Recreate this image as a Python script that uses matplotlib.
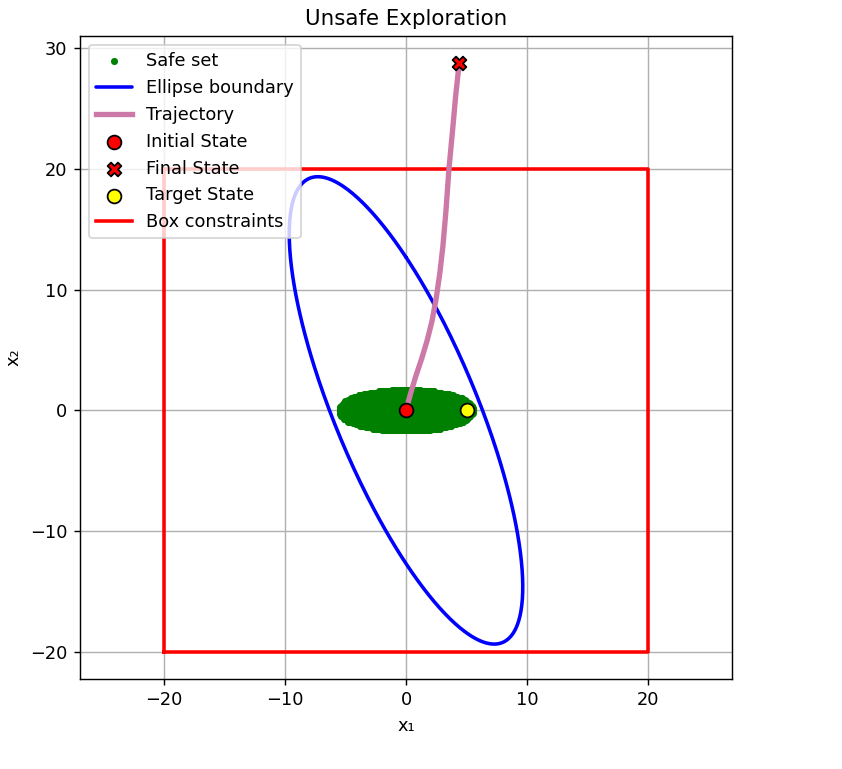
import numpy as np
import matplotlib
matplotlib.use("Agg")
import matplotlib.pyplot as plt

# ---- data ----
safe_center = [0.0, 0.0]
safe_semi_axes = [5.6, 1.76]          # safe set ellipse (filled with sample points)
safe_grid_step = 0.12

ellipse_center = [0.0, 0.0]
ellipse_cov = [[93.1, -141.0],
               [-141.0, 374.4]]       # boundary ellipse shape matrix (inverse)

traj_x = [0.0, 0.35, 0.8, 1.3, 1.75, 2.15, 2.5, 2.8, 3.05, 3.3, 3.55, 3.85, 4.1, 4.4]
traj_y = [0.0, 1.3, 2.8, 4.3, 5.8, 7.4, 9.3, 11.4, 13.6, 16.5, 20.0, 23.2, 26.0, 28.8]

initial_state = [0.0, 0.0]
final_state = [4.4, 28.8]
target_state = [5.0, 0.0]

box_x = [-20, 20, 20, -20, -20]
box_y = [-20, -20, 20, 20, -20]

xlim = (-26.94, 26.94)
ylim = (-22.24, 31.0)

# ---- figure ----
DPI = 128
fig = plt.figure(figsize=(842 / DPI, 769 / DPI), dpi=DPI)
ax = fig.add_axes([80 / 842, 1 - 679 / 769, 652 / 842, 643 / 769])

# safe set: dense points inside ellipse
gx = np.arange(-safe_semi_axes[0], safe_semi_axes[0] + 1e-9, safe_grid_step)
gy = np.arange(-safe_semi_axes[1], safe_semi_axes[1] + 1e-9, safe_grid_step)
GX, GY = np.meshgrid(gx, gy)
mask = (GX / safe_semi_axes[0]) ** 2 + (GY / safe_semi_axes[1]) ** 2 <= 1.0
ax.scatter(GX[mask] + safe_center[0], GY[mask] + safe_center[1], s=16,
           color="green", label="Safe set", zorder=2, linewidths=0)

# ellipse boundary
L = np.linalg.cholesky(np.array(ellipse_cov))
t = np.linspace(0.5 * np.pi, 2.5 * np.pi, 400)
pts = L @ np.vstack([np.cos(t), np.sin(t)])
ax.plot(pts[0] + ellipse_center[0], pts[1] + ellipse_center[1], color="blue",
        lw=2, label="Ellipse boundary", zorder=3,
        solid_capstyle="round", solid_joinstyle="round")

# trajectory
ax.plot(traj_x, traj_y, color="#CC79A7", lw=3, label="Trajectory", zorder=4)

ax.scatter([initial_state[0]], [initial_state[1]], s=60, color="red",
           edgecolors="black", linewidths=1.0, label="Initial State", zorder=5)
ax.scatter([final_state[0]], [final_state[1]], s=60, marker="X", color="red",
           edgecolors="black", linewidths=1.0, label="Final State", zorder=5)
ax.scatter([target_state[0]], [target_state[1]], s=60, color="yellow",
           edgecolors="black", linewidths=1.0, label="Target State", zorder=5)

ax.plot(box_x, box_y, color="red", lw=2, label="Box constraints", zorder=3)

ax.set_xlim(*xlim)
ax.set_ylim(*ylim)
ax.set_xticks([-20, -10, 0, 10, 20])
ax.set_yticks([-20, -10, 0, 10, 20, 30])
ax.grid(True)
ax.set_title("Unsafe Exploration", fontsize=12)
ax.set_xlabel("x\u2081")
ax.set_ylabel("x\u2082")
ax.legend(loc="upper left", fontsize=10)

fig.savefig("out.png", dpi=DPI)
